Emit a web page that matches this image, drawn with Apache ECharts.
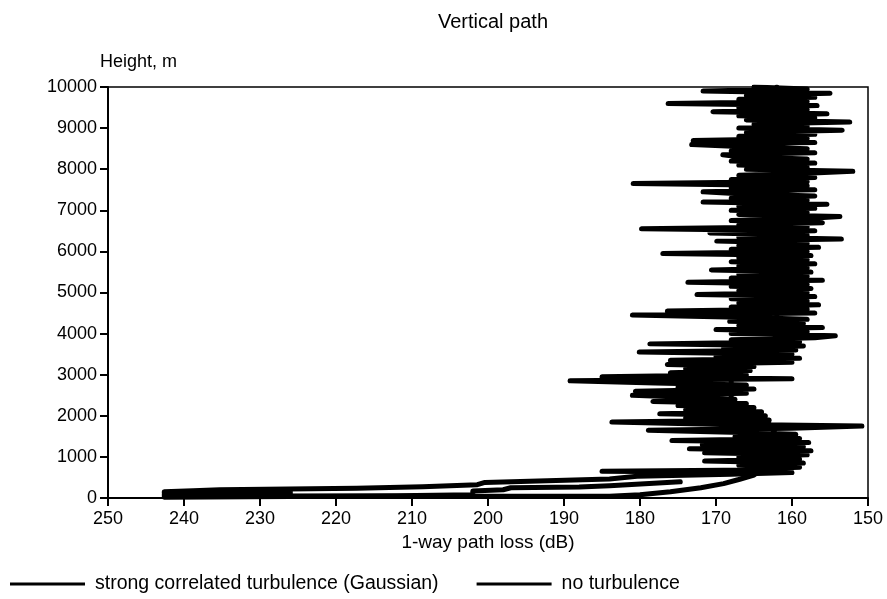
<!DOCTYPE html>
<html>
<head>
<meta charset="utf-8">
<script src="https://cdn.jsdelivr.net/npm/echarts@6/dist/echarts.min.js"></script>
<style>
  html, body { margin: 0; padding: 0; background: #fff; }
  #chart { width: 887px; height: 599px; }
</style>
</head>
<body>
<div id="chart"></div>
<script>
// Axis ticks
var lossTicks = [250, 240, 230, 220, 210, 200, 190, 180, 170, 160, 150];
var heightTicks = [0, 1000, 2000, 3000, 4000, 5000, 6000, 7000, 8000, 9000, 10000];

// One-way path loss (dB) against height (m), strong correlated turbulence (Gaussian)
var strongLoss = [
  174.7, 184, 188, 197, 198, 202, 202, 212, 226,
  242.6, 226, 242.6, 226, 242.6, 226, 242.6, 226, 242.6,
  238.8, 238.8, 235.3, 235.3, 217.3, 217.3, 208.6, 208.6, 201.4,
  201.4, 200.4, 200.4, 184, 184, 180.4, 180.4, 168,
  160, 185, 165,
  166, 159, 167, 158.5, 171.5, 159, 167, 158, 171.5, 157.5,
  173.5, 158.5, 171.8, 157.8, 175.8, 159, 167.5, 159.5, 168, 178.9,
  160, 150.8, 172, 183.7, 163, 174, 163.5, 177.4, 164, 174,
  165, 175, 166, 178.3, 167.5, 174, 181, 166, 180.6, 165,
  175, 166, 178, 189.2, 160, 185, 166, 176, 165.5, 174,
  165, 176.4, 160, 176, 159, 170, 160, 180.1, 159.5, 169,
  158.5, 178.7, 159, 168, 157, 154.3, 168, 158, 170, 156,
  167, 158.5, 168.2, 158, 167, 181, 157, 176.4, 158, 168,
  156.5, 167, 158, 168, 157, 172.5, 158, 167, 157.5, 168,
  158, 173.7, 156, 168, 158, 167, 157.5, 170.6, 158, 167,
  157, 168, 158, 167, 157.5, 177, 158, 168, 156.5, 167,
  158, 169.9, 153.5, 167, 158, 170.8, 157, 179.8, 158, 167,
  156, 168, 158, 153.7, 167, 158, 168, 157, 167, 155.4,
  171.7, 158, 168, 157, 167, 171.7, 157, 168, 158, 180.9,
  158, 168, 157, 167, 158, 152, 166, 158, 167, 157,
  168, 158, 167, 169.1, 157, 168, 158, 167, 173.2, 157,
  173, 158, 167, 157, 166, 153.4, 167, 158, 165, 152.4,
  166, 157, 167, 155.4, 170.4, 158, 167, 156.7, 176.3, 158,
  167, 157, 166, 155, 171.7, 158, 165
];
var strongHeight = [
  395, 300, 270, 250, 200, 170, 80, 55, 40,
  20, 35, 60, 90, 100, 130, 140, 165, 150,
  175, 160, 200, 189, 239, 226, 276, 274, 324,
  330, 380, 411, 461, 477, 527, 525, 575,
  620, 650, 680,
  700, 750, 800, 850, 900, 950, 1000, 1050, 1100, 1150,
  1200, 1250, 1300, 1350, 1400, 1450, 1500, 1550, 1600, 1650,
  1700, 1750, 1800, 1850, 1900, 1950, 2000, 2050, 2100, 2150,
  2200, 2250, 2300, 2350, 2400, 2450, 2500, 2550, 2600, 2650,
  2700, 2750, 2800, 2850, 2900, 2950, 3000, 3050, 3100, 3150,
  3200, 3250, 3300, 3350, 3400, 3450, 3500, 3550, 3600, 3650,
  3700, 3750, 3800, 3850, 3900, 3950, 4000, 4050, 4100, 4150,
  4200, 4250, 4300, 4350, 4400, 4450, 4500, 4550, 4600, 4650,
  4700, 4750, 4800, 4850, 4900, 4950, 5000, 5050, 5100, 5150,
  5200, 5250, 5300, 5350, 5400, 5450, 5500, 5550, 5600, 5650,
  5700, 5750, 5800, 5850, 5900, 5950, 6000, 6050, 6100, 6150,
  6200, 6250, 6300, 6350, 6400, 6450, 6500, 6550, 6600, 6650,
  6700, 6750, 6800, 6850, 6900, 6950, 7000, 7050, 7100, 7150,
  7200, 7250, 7300, 7350, 7400, 7450, 7500, 7550, 7600, 7650,
  7700, 7750, 7800, 7850, 7900, 7950, 8000, 8050, 8100, 8150,
  8200, 8250, 8300, 8350, 8400, 8450, 8500, 8550, 8600, 8650,
  8700, 8750, 8800, 8850, 8900, 8950, 9000, 9050, 9100, 9150,
  9200, 9250, 9300, 9350, 9400, 9450, 9500, 9550, 9600, 9650,
  9700, 9750, 9800, 9850, 9900, 9950, 10000
];

// One-way path loss (dB) against height (m), no turbulence
var calmLoss = [
  238, 216, 198, 184, 180, 176, 172, 169, 167, 165,
  164, 163, 162, 161.5, 162, 163, 166, 168, 168, 168,
  165, 163, 162, 162, 162, 162, 162, 162, 162
];
var calmHeight = [
  50, 42, 40, 45, 80, 150, 250, 350, 450, 560,
  700, 800, 1000, 1200, 1500, 1800, 2100, 2400, 2700, 3000,
  3300, 3600, 4000, 5000, 6000, 7000, 8000, 9000, 10000
];

function pairs(xs, ys) {
  var out = [];
  for (var i = 0; i < xs.length; i++) out.push([xs[i], ys[i]]);
  return out;
}

var FONT = "'Liberation Sans', Arial, Helvetica, sans-serif";
var INK = '#000';

var chart = echarts.init(document.getElementById('chart'), null, { renderer: 'canvas' });

chart.setOption({
  backgroundColor: '#fff',
  animation: false,
  title: {
    text: 'Vertical path',
    left: 488,
    textAlign: 'center',
    top: 7,
    textStyle: { fontFamily: FONT, fontSize: 20, fontWeight: 'normal', color: INK }
  },
  grid: {
    left: 108, right: 19, top: 87, bottom: 101,
    show: true, borderColor: INK, borderWidth: 1.5, backgroundColor: 'transparent'
  },
  legend: {
    bottom: 0,
    left: 5,
    itemWidth: 75,
    itemHeight: 14,
    itemGap: 38,
    icon: 'path://M0,5.5 L75,5.5 L75,8.5 L0,8.5 Z',
    textStyle: { fontFamily: FONT, fontSize: 19.5, color: INK, padding: [0, 0, 0, 5] },
    data: ['strong correlated turbulence (Gaussian)', 'no turbulence']
  },
  xAxis: {
    type: 'value',
    inverse: true,
    min: lossTicks[lossTicks.length - 1],
    max: lossTicks[0],
    interval: 10,
    name: '1-way path loss (dB)',
    nameLocation: 'middle',
    nameGap: 35,
    nameTextStyle: { fontFamily: FONT, fontSize: 19, color: INK },
    axisLine: { show: true, onZero: false, lineStyle: { color: INK, width: 2 } },
    axisTick: { show: true, inside: false, length: 8, lineStyle: { color: INK, width: 2 } },
    axisLabel: { margin: 12, fontFamily: FONT, fontSize: 18, color: INK,
      formatter: function (v) { return String(v); } },
    splitLine: { show: false }
  },
  yAxis: {
    type: 'value',
    min: heightTicks[0],
    max: heightTicks[heightTicks.length - 1],
    interval: 1000,
    name: 'Height, m',
    nameLocation: 'end',
    nameGap: 16,
    nameTextStyle: { fontFamily: FONT, fontSize: 18, color: INK, align: 'left', padding: [0, 0, 0, -8] },
    axisLine: { show: true, onZero: false, lineStyle: { color: INK, width: 2 } },
    axisTick: { show: true, inside: false, length: 8, lineStyle: { color: INK, width: 2 } },
    axisLabel: { margin: 11, fontFamily: FONT, fontSize: 18, color: INK,
      formatter: function (v) { return String(v); } },
    splitLine: { show: false }
  },
  series: [
    {
      name: 'strong correlated turbulence (Gaussian)',
      type: 'line',
      data: pairs(strongLoss, strongHeight),
      showSymbol: false,
      symbol: 'none',
      clip: true,
      lineStyle: { color: INK, width: 5, cap: 'round', join: 'round' },
      itemStyle: { color: INK },
      z: 3
    },
    {
      name: 'no turbulence',
      type: 'line',
      data: pairs(calmLoss, calmHeight),
      showSymbol: false,
      symbol: 'none',
      clip: true,
      lineStyle: { color: INK, width: 5, cap: 'round', join: 'round' },
      itemStyle: { color: INK },
      z: 2
    }
  ]
});
</script>
</body>
</html>
